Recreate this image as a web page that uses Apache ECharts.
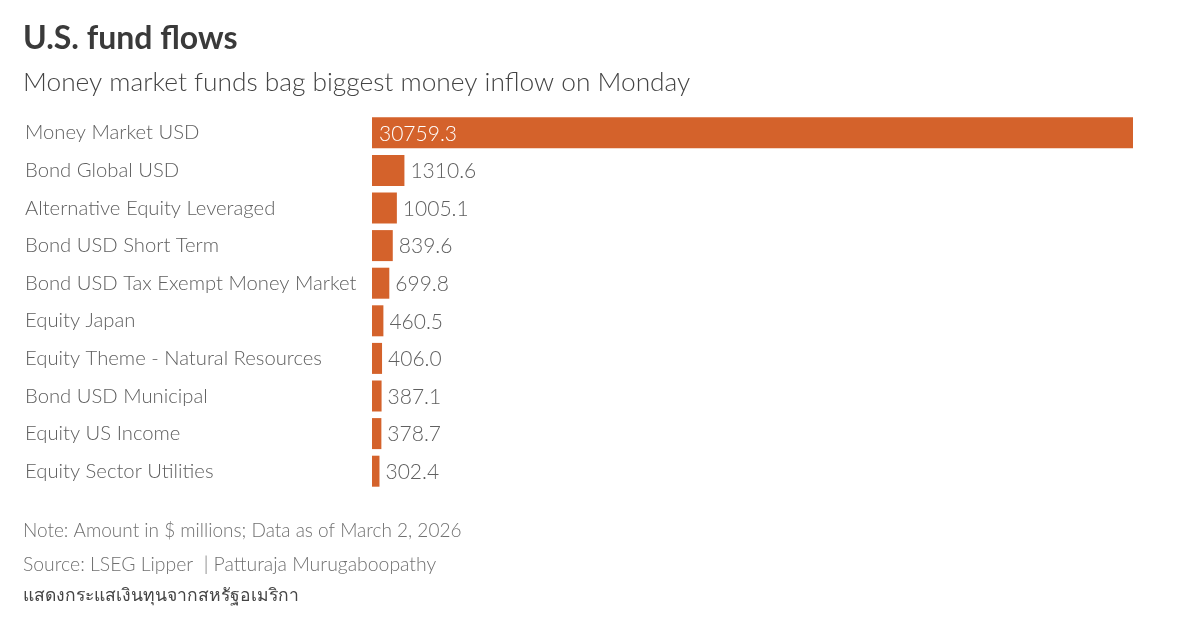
<!DOCTYPE html>
<html>
<head>
<meta charset="utf-8">
<script src="https://cdn.jsdelivr.net/npm/echarts@6/dist/echarts.min.js"></script>
<style>
html, body { margin: 0; padding: 0; background: #fff; }
#chart { width: 1200px; height: 631px; }
</style>
</head>
<body>
<div id="chart"></div>
<script>
var categories = [
    'Money Market USD', 'Bond Global USD', 'Alternative Equity Leveraged',
    'Bond USD Short Term', 'Bond USD Tax Exempt Money Market', 'Equity Japan',
    'Equity Theme - Natural Resources', 'Bond USD Municipal',
    'Equity US Income', 'Equity Sector Utilities'
];
var flows = [30759.3, 1310.6, 1005.1, 839.6, 699.8, 460.5, 406.0, 387.1, 378.7, 302.4];

var font = 'Lato, "Noto Sans", sans-serif';
var grey = '#606060';

var chart = echarts.init(document.getElementById('chart'));

function textLine(left, top, text, size, color, weight) {
    return {
        type: 'text', left: left, top: top,
        style: { text: text, fontFamily: font, fontSize: size, fill: color, fontWeight: weight || 'normal' }
    };
}

chart.setOption({
    animation: false,
    backgroundColor: '#fff',
    grid: { left: 372, top: 114, width: 761, height: 376 },
    xAxis: { type: 'value', min: 0, max: 30759.3, show: false },
    yAxis: {
        type: 'category',
        inverse: true,
        data: categories,
        axisLine: { show: false },
        axisTick: { show: false },
        axisLabel: {
            align: 'left', margin: 347,
            fontFamily: font, fontSize: 20.25, fontWeight: 300, color: grey
        }
    },
    series: [{
        type: 'bar',
        data: flows.map(function (v, i) {
            return {
                value: v,
                label: i === 0
                    ? { position: 'insideLeft', color: '#fff', distance: 7 }
                    : { position: 'right', color: grey, distance: 6 }
            };
        }),
        barWidth: 31,
        itemStyle: { color: '#d4622b' },
        label: {
            show: true, fontFamily: font, fontSize: 21, fontWeight: 300, offset: [0, 1],
            formatter: function (p) { return p.value.toFixed(1); }
        }
    }],
    graphic: [
        textLine(23, 23, 'U.S. fund flows', 32, '#3a3a3a', 'bold'),
        textLine(23, 70, 'Money market funds bag biggest money inflow on Monday', 26.3, '#444444', 300),
        textLine(23, 521, 'Note: Amount in $ millions; Data as of March 2, 2026', 19, '#707070', 300),
        textLine(23, 555, 'Source: LSEG Lipper  | Patturaja Murugaboopathy', 19.4, '#707070', 300),
        textLine(23, 586, 'แสดงกระแสเงินทุนจากสหรัฐอเมริกา', 17.5, '#444444', 500)
    ]
});
</script>
</body>
</html>
